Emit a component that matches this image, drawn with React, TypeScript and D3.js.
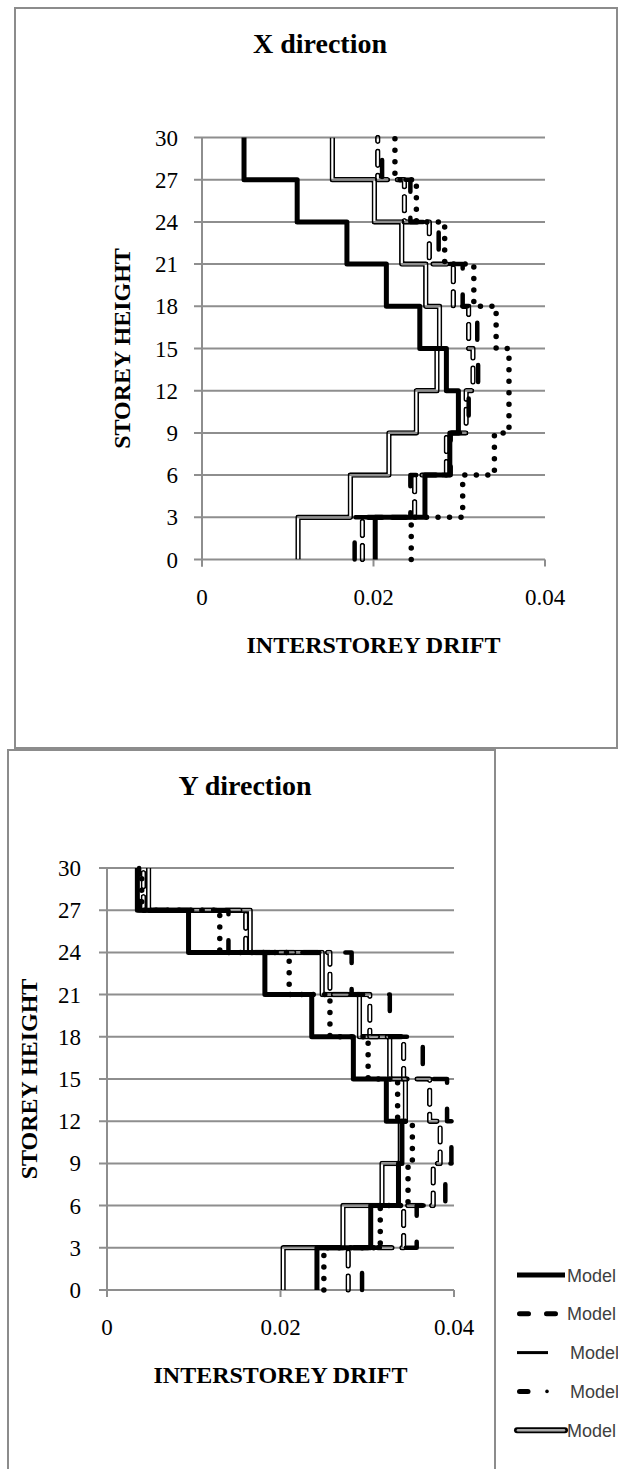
import React from 'react';
import * as d3 from 'd3';

// Storey levels (gridlines) and drift tick values
const storeyTicks = [0, 3, 6, 9, 12, 15, 18, 21, 24, 27, 30];
const driftTicks = [0, 0.02, 0.04];
const legendLabels = ['Model', 'Model', 'Model', 'Model', 'Model'];

// Interstorey drift per 3-storey band, bottom (0-3) to top (27-30) — X direction
const xModel1 = [0.0202, 0.026, 0.0289, 0.0299, 0.0285, 0.0254, 0.0215, 0.0169, 0.0111, 0.0049];
const xModel2 = [0.0178, 0.0243, 0.029, 0.0311, 0.0322, 0.0321, 0.0304, 0.0276, 0.0243, 0.021];
const xModel3 = [0.0187, 0.0248, 0.0285, 0.0308, 0.0316, 0.0311, 0.0293, 0.0265, 0.0236, 0.0205];
const xModel4 = [0.0244, 0.0304, 0.0341, 0.0358, 0.0358, 0.0343, 0.0317, 0.0283, 0.025, 0.0225];
const xModel5 = [0.0112, 0.0173, 0.0218, 0.025, 0.0274, 0.0277, 0.0261, 0.0233, 0.0201, 0.0152];

// Interstorey drift per 3-storey band — Y direction
const yModel1 = [0.0242, 0.0304, 0.0336, 0.034, 0.0322, 0.0284, 0.0236, 0.0182, 0.0094, 0.0035];
const yModel2 = [0.0294, 0.0357, 0.039, 0.0397, 0.0392, 0.0364, 0.0326, 0.0282, 0.014, 0.0037];
const yModel3 = [0.0278, 0.0342, 0.0376, 0.0384, 0.0372, 0.0342, 0.0303, 0.0257, 0.016, 0.0042];
const yModel4 = [0.025, 0.0315, 0.0347, 0.0352, 0.0335, 0.0301, 0.0257, 0.021, 0.013, 0.004];
const yModel5 = [0.0203, 0.0272, 0.0317, 0.0338, 0.0344, 0.0326, 0.0291, 0.0248, 0.0165, 0.0048];

const W = 618;
const H = 1469;
const GRID = '#8e8e8e';
const SERIF = '"Liberation Serif", "Times New Roman", serif';

type LineKind = 'solid' | 'dash' | 'capsule' | 'dots' | 'double';
const kinds: LineKind[] = ['solid', 'dash', 'capsule', 'dots', 'double'];
// draw order: compound first, thick solid last
const drawOrder = [4, 2, 1, 3, 0];

interface ChartSpec {
  id: string;
  title: string;
  box: { left: number; top: number; right: number; bottom: number };
  plot: { left: number; right: number; top: number; bottom: number };
  titleX: number;
  titleY: number;
  yLabelRight: number;
  yTitleX: number;
  series: number[][];
}

function stepPoints(values: number[]): [number, number][] {
  const pts: [number, number][] = [];
  values.forEach((v, i) => {
    pts.push([v, storeyTicks[i]]);
    pts.push([v, storeyTicks[i + 1]]);
  });
  return pts;
}

function SeriesPath({ d, kind, id }: { d: string; kind: LineKind; id: string }) {
  if (kind === 'solid') {
    return <path d={d} fill="none" stroke="#000" strokeWidth={5} strokeLinejoin="round" />;
  }
  if (kind === 'dash') {
    return (
      <path d={d} fill="none" stroke="#000" strokeWidth={4.5} strokeLinecap="round"
        strokeLinejoin="round" strokeDasharray="17 26" />
    );
  }
  if (kind === 'dots') {
    return (
      <path d={d} fill="none" stroke="#000" strokeWidth={5.5} strokeLinecap="round"
        strokeDasharray="0 11.5" />
    );
  }
  // outlined strokes with a see-through core
  const dash = kind === 'capsule' ? '14 10' : undefined;
  const cap = kind === 'capsule' ? 'round' : 'butt';
  return (
    <g>
      <mask id={id} maskUnits="userSpaceOnUse" x={0} y={0} width={W} height={H}>
        <path d={d} fill="none" stroke="#fff" strokeWidth={5.5} strokeLinecap={cap}
          strokeLinejoin="round" strokeDasharray={dash} />
        <path d={d} fill="none" stroke="#000" strokeWidth={2.2} strokeLinecap={cap}
          strokeLinejoin="round" strokeDasharray={dash} />
      </mask>
      <path d={d} fill="none" stroke="#000" strokeWidth={5.5} strokeLinecap={cap}
        strokeLinejoin="round" strokeDasharray={dash} mask={`url(#${id})`} />
    </g>
  );
}

function DriftChart({ spec }: { spec: ChartSpec }) {
  const { box, plot } = spec;
  const x = d3.scaleLinear().domain([0, 0.04]).range([plot.left, plot.right]);
  const y = d3.scaleLinear().domain([0, 30]).range([plot.bottom, plot.top]);
  const line = d3
    .line<[number, number]>()
    .x((p) => x(p[0]))
    .y((p) => y(p[1]));
  const fmt = (v: number) => (v === 0 ? '0' : d3.format('.2f')(v));

  return (
    <g>
      <rect x={box.left} y={box.top} width={box.right - box.left} height={box.bottom - box.top}
        fill="#fff" stroke="#8c8c8c" strokeWidth={2} />
      <text x={spec.titleX} y={spec.titleY} textAnchor="middle" fontFamily={SERIF}
        fontWeight="bold" fontSize={28} fill="#000">{spec.title}</text>

      {/* horizontal gridlines with left tick marks */}
      {storeyTicks.map((s) => (
        <g key={`g${s}`}>
          <line x1={x(0) - 8} x2={x(0.04)} y1={y(s)} y2={y(s)} stroke={GRID} strokeWidth={2} />
          <text x={spec.yLabelRight} y={y(s) + 8} textAnchor="end" fontFamily={SERIF}
            fontSize={23} fill="#000">{s}</text>
        </g>
      ))}
      {/* vertical axis */}
      <line x1={x(0)} x2={x(0)} y1={y(30)} y2={y(0) + 7} stroke={GRID} strokeWidth={2} />
      {driftTicks.map((t) => (
        <g key={`t${t}`}>
          <line x1={x(t)} x2={x(t)} y1={y(0)} y2={y(0) + 7} stroke={GRID} strokeWidth={2} />
          <text x={x(t)} y={y(0) + 45} textAnchor="middle" fontFamily={SERIF} fontSize={23}
            fill="#000">{fmt(t)}</text>
        </g>
      ))}

      {drawOrder.map((k) => (
        <SeriesPath key={k} d={line(stepPoints(spec.series[k])) || ''} kind={kinds[k]}
          id={`${spec.id}-m${k + 1}`} />
      ))}

      <text x={(x(0) + x(0.04)) / 2} y={y(0) + 93} textAnchor="middle" fontFamily={SERIF}
        fontWeight="bold" fontSize={24} fill="#000">INTERSTOREY DRIFT</text>
      <text transform={`translate(${spec.yTitleX},${(y(0) + y(30)) / 2}) rotate(-90)`}
        textAnchor="middle" fontFamily={SERIF} fontWeight="bold" fontSize={24}
        fill="#000">STOREY HEIGHT</text>
    </g>
  );
}

function LegendSample({ kind, cy }: { kind: LineKind; cy: number }) {
  const x0 = 517;
  if (kind === 'solid') {
    return <line x1={x0} x2={565} y1={cy} y2={cy} stroke="#000" strokeWidth={5} />;
  }
  if (kind === 'dash') {
    return (
      <line x1={x0 + 2.5} x2={x0 + 40} y1={cy} y2={cy} stroke="#000" strokeWidth={5}
        strokeLinecap="round" strokeDasharray="9 18" />
    );
  }
  if (kind === 'capsule') {
    return <line x1={x0} x2={548} y1={cy} y2={cy} stroke="#000" strokeWidth={3} />;
  }
  if (kind === 'dots') {
    return (
      <g>
        <line x1={x0 + 2.5} x2={x0 + 11} y1={cy} y2={cy} stroke="#000" strokeWidth={5}
          strokeLinecap="round" />
        <circle cx={547} cy={cy} r={1.8} fill="#000" />
      </g>
    );
  }
  return (
    <g>
      <line x1={x0} x2={565} y1={cy} y2={cy} stroke="#000" strokeWidth={6}
        strokeLinecap="round" />
      <line x1={x0 + 1} x2={564} y1={cy} y2={cy} stroke="#a8a8a8" strokeWidth={2.6}
        strokeLinecap="round" />
    </g>
  );
}

export default function App() {
  const specs: ChartSpec[] = [
    {
      id: 'xdir',
      title: 'X direction',
      box: { left: 15, top: 8, right: 617, bottom: 748 },
      plot: { left: 202, right: 545, top: 137.5, bottom: 559.5 },
      titleX: 320,
      titleY: 53,
      yLabelRight: 178,
      yTitleX: 130,
      series: [xModel1, xModel2, xModel3, xModel4, xModel5],
    },
    {
      id: 'ydir',
      title: 'Y direction',
      box: { left: 8, top: 750, right: 495, bottom: 1480 },
      plot: { left: 107, right: 454, top: 868, bottom: 1290 },
      titleX: 245,
      titleY: 795,
      yLabelRight: 81,
      yTitleX: 37,
      series: [yModel1, yModel2, yModel3, yModel4, yModel5],
    },
  ];
  const legendY = (i: number) => 1275 + i * 38.8;

  return (
    <div style={{ position: 'absolute', left: 0, top: 0, width: W, height: H, overflow: 'hidden' }}>
      <svg width={W} height={H} viewBox={`0 0 ${W} ${H}`} style={{ display: 'block', background: '#fff' }}>
        <rect x={0} y={0} width={W} height={H} fill="#fff" />
        {specs.map((s) => (
          <DriftChart key={s.id} spec={s} />
        ))}
        <g>
          {legendLabels.map((name, i) => (
            <g key={`legend-${i}`}>
              <LegendSample kind={kinds[i]} cy={legendY(i)} />
              <text x={i === 2 || i === 3 ? 570 : 567} y={legendY(i) + 6.5}
                fontFamily='"Liberation Sans", Arial, sans-serif' fontSize={18}
                fill="#404040">{name}</text>
            </g>
          ))}
        </g>
      </svg>
    </div>
  );
}
